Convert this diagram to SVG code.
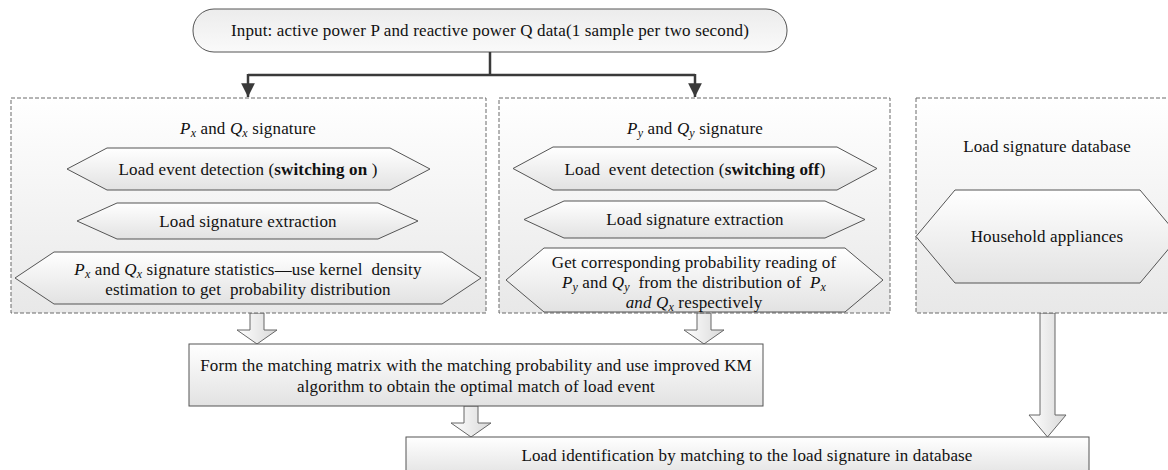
<svg xmlns="http://www.w3.org/2000/svg" width="1168" height="470" viewBox="0 0 1168 470" font-family="Liberation Serif, serif">
<defs>
<linearGradient id="gPanel" x1="0" y1="0" x2="0" y2="1"><stop offset="0" stop-color="#ffffff"/><stop offset="1" stop-color="#e8e8e8"/></linearGradient>
<linearGradient id="gShape" x1="0" y1="0" x2="0" y2="1"><stop offset="0" stop-color="#ffffff"/><stop offset="1" stop-color="#e2e2e2"/></linearGradient>
<linearGradient id="gTop" x1="0" y1="0" x2="0" y2="1"><stop offset="0" stop-color="#ececec"/><stop offset="1" stop-color="#fafafa"/></linearGradient>
<linearGradient id="gArrow" x1="0" y1="0" x2="1" y2="0"><stop offset="0" stop-color="#ffffff"/><stop offset="1" stop-color="#d8d8d8"/></linearGradient>
<marker id="ah" viewBox="0 0 10 10" refX="10" refY="5" markerWidth="5.5" markerHeight="5.5" orient="auto" markerUnits="strokeWidth"><path d="M0,0 L10,5 L0,10 z" fill="#3a3a3a"/></marker>
</defs>
<style>
text{font-family:"Liberation Serif","Times New Roman",serif;font-size:17px;letter-spacing:0.15px;fill:#111;white-space:pre}
.c{text-anchor:middle}
.i{font-style:italic}
.b{font-weight:bold}
.s{font-size:12px;font-style:italic}
.panel{fill:url(#gPanel);stroke:#6a6a6a;stroke-width:1;stroke-dasharray:4 2}
.shape{fill:url(#gShape);stroke:#555;stroke-width:1}
.hol{fill:url(#gArrow);stroke:#666;stroke-width:1}
.conn{fill:none;stroke:#3a3a3a;stroke-width:2.5}
</style>
<g id="input">
<rect x="193" y="9" width="594" height="43" rx="21" ry="21" fill="url(#gTop)" stroke="#555" stroke-width="1"/>
<text class="c" x="490" y="36">Input: active power P and reactive power Q data(1 sample per two second)</text>
</g>
<g id="connectors">
<path class="conn" d="M490,52 V75"/>
<path class="conn" d="M248,75 H695"/>
<path class="conn" d="M248,74 V97" marker-end="url(#ah)"/>
<path class="conn" d="M695,74 V97" marker-end="url(#ah)"/>
<polygon class="hol" points="250,313 264,313 264,330 277,330 257,344 237,330 250,330"/>
<polygon class="hol" points="697,313 711,313 711,330 724,330 704,344 684,330 697,330"/>
<polygon class="hol" points="464,406 478,406 478,423 491,423 471,437 451,423 464,423"/>
<polygon class="hol" points="1040,313 1055,313 1055,415 1066,415 1047.5,437 1029,415 1040,415"/>
</g>
<g id="panel-on">
<rect class="panel" x="11" y="98" width="475" height="215"/>
<text class="c" x="248" y="134"><tspan class="i">P</tspan><tspan class="s" dy="3">x</tspan><tspan dy="-3"> and </tspan><tspan class="i">Q</tspan><tspan class="s" dy="3">x</tspan><tspan dy="-3"> signature</tspan></text>
</g>
<g id="detect-on">
<polygon class="shape" points="67,169 107,148 390,148 430,169 390,190 107,190"/>
<text class="c" x="248" y="175">Load event detection (<tspan class="b">switching on</tspan> )</text>
</g>
<g id="extract-on">
<polygon class="shape" points="77,221 117,203 378,203 418,221 378,239 117,239"/>
<text class="c" x="248" y="227">Load signature extraction</text>
</g>
<g id="stats-on">
<polygon class="shape" points="15,278 54,252 442,252 481,278 442,304 54,304"/>
<text class="c" x="248" y="275"><tspan class="i">P</tspan><tspan class="s" dy="3">x</tspan><tspan dy="-3"> and </tspan><tspan class="i">Q</tspan><tspan class="s" dy="3">x</tspan><tspan dy="-3"> signature statistics—use kernel  density</tspan></text>
<text class="c" x="248" y="295">estimation to get  probability distribution</text>
</g>
<g id="panel-off">
<rect class="panel" x="499" y="98" width="391" height="215"/>
<text class="c" x="695" y="134"><tspan class="i">P</tspan><tspan class="s" dy="3">y</tspan><tspan dy="-3"> and </tspan><tspan class="i">Q</tspan><tspan class="s" dy="3">y</tspan><tspan dy="-3"> signature</tspan></text>
</g>
<g id="detect-off">
<polygon class="shape" points="513,168.5 553,147 837,147 877,168.5 837,190 553,190"/>
<text class="c" x="695" y="175">Load  event detection (<tspan class="b">switching off</tspan>)</text>
</g>
<g id="extract-off">
<polygon class="shape" points="524,219.5 564,201 825,201 865,219.5 825,238 564,238"/>
<text class="c" x="695" y="225">Load signature extraction</text>
</g>
<g id="prob-off">
<polygon class="shape" points="506,280 544,248 845,248 883,280 845,312 544,312"/>
<text class="c" x="694" y="268">Get corresponding probability reading of</text>
<text class="c" x="694" y="288"><tspan class="i">P</tspan><tspan class="s" dy="3">y</tspan><tspan dy="-3"> and </tspan><tspan class="i">Q</tspan><tspan class="s" dy="3">y</tspan><tspan dy="-3">  from the distribution of  </tspan><tspan class="i">P</tspan><tspan class="s" dy="3">x</tspan></text>
<text class="c" x="694" y="308"><tspan class="i">and Q</tspan><tspan class="s" dy="3">x</tspan><tspan dy="-3"> respectively</tspan></text>
</g>
<g id="panel-db">
<rect class="panel" x="916" y="98" width="264" height="215"/>
<text class="c" x="1047" y="152">Load signature database</text>
</g>
<g id="appliances">
<polygon class="shape" points="916,236.5 955,190 1140,190 1179,236.5 1140,283 955,283"/>
<text class="c" x="1047" y="242">Household appliances</text>
</g>
<g id="matching">
<rect x="189" y="344" width="574" height="62" fill="url(#gShape)" stroke="#555" stroke-width="1"/>
<text class="c" x="476" y="371">Form the matching matrix with the matching probability and use improved KM</text>
<text class="c" x="476" y="392">algorithm to obtain the optimal match of load event</text>
</g>
<g id="identify">
<rect x="406" y="437" width="683" height="40" fill="url(#gShape)" stroke="#555" stroke-width="1"/>
<text class="c" x="747" y="461">Load identification by matching to the load signature in database</text>
</g>
</svg>
